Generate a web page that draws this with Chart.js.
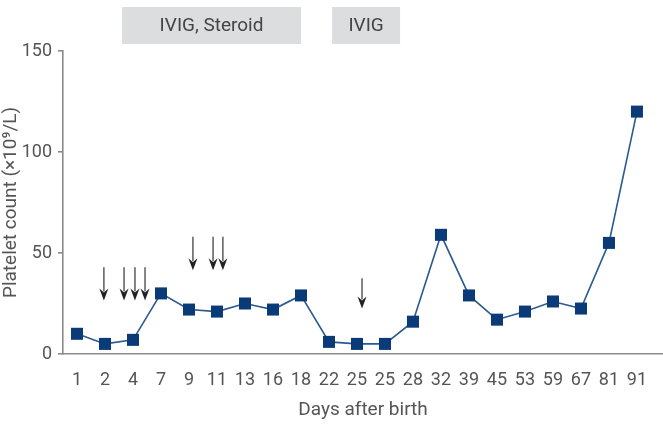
<!DOCTYPE html>
<html>
<head>
<meta charset="utf-8">
<script src="https://cdn.jsdelivr.net/npm/chart.js@4"></script>
<style>
  html, body { margin:0; padding:0; background:#fff; }
  #wrap { width:663px; height:426px; position:relative; }
</style>
</head>
<body>
<div id="wrap"><canvas id="plt"></canvas></div>
<script>
const days = ['1','2','4','7','9','11','13','16','18','22','25','25','28','32','39','45','53','59','67','81','91'];
const platelets = [10,5,7,30,22,21,25,22,29,6,5,5,16,59,29,17,21,26,22.5,55,120];
const yTicks = [0,50,100,150];

// treatment arrows: x position in category index, shaft top and tip in platelet units
const arrowX   = [0.96,1.68,2.07,2.43, 4.14,4.86,5.21, 10.18];
const arrowTop = [43,43,43,43, 58,58,58, 37.5];
const arrowTip = [26.5,26.5,26.5,26.5, 41.5,41.5,41.5, 22.5];

// treatment periods shown above the plot
const boxLabels = ['IVIG, Steroid','IVIG'];
const boxFrom = [1.61, 9.11];
const boxTo   = [8.0, 11.54];

const FONT = "'Roboto', sans-serif";
const TXT = '#555';

const extras = {
  id: 'extras',
  afterDraw(chart) {
    const { ctx, scales: { x, y } } = chart;
    ctx.save();
    boxLabels.forEach((lab, i) => {
      const x0 = x.getPixelForValue(boxFrom[i]), x1 = x.getPixelForValue(boxTo[i]);
      ctx.fillStyle = '#dcdddf';
      ctx.fillRect(x0, 7, x1 - x0, 37);
      ctx.fillStyle = '#444';
      ctx.font = '19px ' + FONT;
      ctx.textAlign = 'center';
      ctx.textBaseline = 'middle';
      ctx.fillText(lab, (x0 + x1) / 2, 26);
    });
    arrowX.forEach((v, i) => {
      const px = x.getPixelForValue(v);
      const top = y.getPixelForValue(arrowTop[i]);
      const tip = y.getPixelForValue(arrowTip[i]);
      ctx.strokeStyle = '#666';
      ctx.lineWidth = 1.6;
      ctx.beginPath();
      ctx.moveTo(px, top);
      ctx.lineTo(px, tip - 9);
      ctx.stroke();
      ctx.fillStyle = '#222';
      ctx.beginPath();
      ctx.moveTo(px - 4.5, tip - 12);
      ctx.lineTo(px, tip - 8);
      ctx.lineTo(px + 4.5, tip - 12);
      ctx.lineTo(px, tip);
      ctx.closePath();
      ctx.fill();
    });
    ctx.restore();
  }
};

new Chart(document.getElementById('plt'), {
  type: 'line',
  data: {
    datasets: [{
      data: platelets.map((v, i) => ({ x: i, y: v })),
      borderColor: '#2b5a8e',
      borderWidth: 1.6,
      pointStyle: 'rect',
      pointRadius: 8.5,
      pointBackgroundColor: '#0b3a78',
      pointBorderColor: '#0b3a78',
      pointBorderWidth: 0,
      tension: 0
    }]
  },
  options: {
    responsive: true,
    maintainAspectRatio: false,
    animation: false,
    layout: { autoPadding: false, padding: { top: 51, right: 0, left: 0, bottom: 0 } },
    plugins: { legend: { display: false }, tooltip: { enabled: false } },
    scales: {
      x: {
        type: 'linear',
        min: -0.5,
        max: 20.93,
        afterBuildTicks: s => { s.ticks = days.map((d, i) => ({ value: i })); },
        afterFit: s => { s.height = 72; s.paddingLeft = 0; s.paddingRight = 0; },
        ticks: { callback: (v) => days[v], color: TXT, font: { family: FONT, size: 18 }, padding: 8, maxRotation: 0, autoSkip: false },
        grid: { display: false },
        border: { color: '#8a8a8a', width: 1.6 },
        title: { display: true, text: 'Days after birth', color: TXT, font: { family: FONT, size: 19 }, padding: { top: 3 } }
      },
      y: {
        min: 0,
        max: 150,
        afterBuildTicks: s => { s.ticks = yTicks.map(v => ({ value: v })); },
        afterFit: s => { s.width = 63; },
        ticks: { color: TXT, font: { family: FONT, size: 18 }, padding: 6 },
        grid: { drawOnChartArea: false, tickLength: 5, color: '#8a8a8a', lineWidth: 1.6 },
        border: { color: '#8a8a8a', width: 1.6 },
        title: { display: true, text: 'Platelet count (×10⁹/L)', color: TXT, font: { family: FONT, size: 19 }, padding: { top: 0, bottom: 0 } }
      }
    }
  },
  plugins: [extras]
});
</script>
</body>
</html>
